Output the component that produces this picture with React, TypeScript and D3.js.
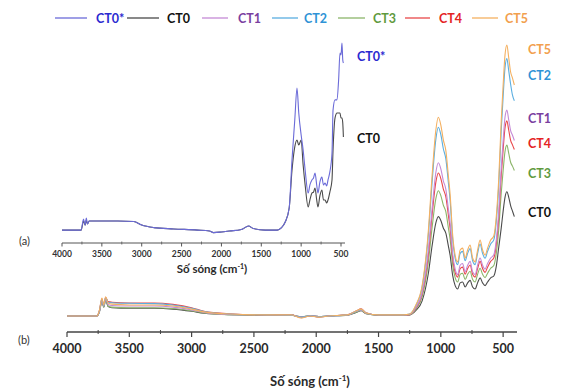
import React from 'react';
import * as d3 from 'd3';

// ---------- Data ----------
const legendNames = ['CT0*', 'CT0', 'CT1', 'CT2', 'CT3', 'CT4', 'CT5'];
const lineColors: Record<string, string> = {
  'CT0*': '#6b6bd8',
  CT0: '#4a4a4a',
  CT1: '#c58ad6',
  CT2: '#5aaee0',
  CT3: '#8cb56a',
  CT4: '#e8474a',
  CT5: '#f4b060',
};
const textColors: Record<string, string> = {
  'CT0*': '#2a2ad0',
  CT0: '#111111',
  CT1: '#7a3fa0',
  CT2: '#2f93d6',
  CT3: '#5f9a3e',
  CT4: '#e42424',
  CT5: '#f2a04e',
};

const mainTicks = [4000, 3500, 3000, 2500, 2000, 1500, 1000, 500];
const mainMinorTicks = [3750, 3250, 2750, 2250, 1750, 1250, 750];
const insetTicks = [4000, 3500, 3000, 2500, 2000, 1500, 1000, 500];
const insetMinorTicks = [3750, 3250, 2750, 2250, 1750, 1250, 750];

// Main panel (b) wavenumbers
const mainWavenumbers = [
  4000, 3760, 3740, 3720, 3705, 3690, 3670, 3640, 3500, 3300, 3150, 3000, 2900, 2700, 2400, 2200, 2120, 2050, 1980, 1900,
  1750, 1680, 1640, 1600, 1500, 1300,
  1250, 1200, 1150, 1100, 1070, 1040, 1020, 1000, 980, 960, 940, 925, 905, 885, 865, 845, 825, 805, 785, 765, 745, 725,
  705, 685, 665, 645, 625, 600, 575, 555, 535, 515, 500, 485, 470, 455, 440, 425, 410,
];

const ct5Main = [
  0, 0, 0.02, 0.065, 0.04, 0.07, 0.047, 0.043, 0.04, 0.04, 0.036, 0.025, 0.015, 0.007, 0.004, 0.004, -0.007, 0, -0.004, 0,
  0.004, 0.018, 0.025, 0.011, 0.004, 0.004,
  0.007, 0.04, 0.11, 0.31, 0.51, 0.674, 0.72, 0.692, 0.638, 0.6, 0.51, 0.438, 0.293, 0.22, 0.196, 0.239, 0.246, 0.21,
  0.239, 0.257, 0.21, 0.196, 0.239, 0.275, 0.239, 0.22, 0.246, 0.275, 0.29, 0.36, 0.5, 0.71, 0.837, 0.946, 0.982,
  0.935, 0.884, 0.862, 0.837,
];
const ct2Main = [
  0, 0, 0.018, 0.06, 0.038, 0.066, 0.05, 0.048, 0.046, 0.045, 0.04, 0.028, 0.016, 0.007, 0.004, 0.003, -0.005, 0.001,
  -0.003, 0, 0.004, 0.017, 0.024, 0.011, 0.004, 0.004,
  0.007, 0.038, 0.105, 0.295, 0.485, 0.64, 0.684, 0.657, 0.606, 0.57, 0.485, 0.416, 0.278, 0.209, 0.186, 0.227, 0.234,
  0.2, 0.227, 0.244, 0.2, 0.186, 0.227, 0.261, 0.227, 0.209, 0.234, 0.261, 0.276, 0.343, 0.475, 0.675, 0.795, 0.899,
  0.933, 0.888, 0.84, 0.8, 0.78,
];
const ct1Main = [
  0, 0, 0.016, 0.058, 0.036, 0.062, 0.042, 0.038, 0.036, 0.036, 0.032, 0.022, 0.013, 0.006, 0.004, 0.003, -0.004, 0.001,
  -0.002, 0, 0.004, 0.016, 0.022, 0.01, 0.004, 0.004,
  0.006, 0.031, 0.085, 0.24, 0.39, 0.52, 0.555, 0.533, 0.49, 0.46, 0.39, 0.337, 0.225, 0.17, 0.15, 0.184, 0.19, 0.16,
  0.184, 0.198, 0.16, 0.15, 0.184, 0.21, 0.184, 0.17, 0.19, 0.21, 0.222, 0.275, 0.38, 0.54, 0.636, 0.72, 0.746, 0.71,
  0.672, 0.655, 0.636,
];
const ct4Main = [
  0, 0, 0.02, 0.062, 0.04, 0.068, 0.052, 0.05, 0.047, 0.047, 0.042, 0.03, 0.017, 0.008, 0.004, 0.004, -0.006, 0, -0.004,
  0, 0.004, 0.018, 0.026, 0.012, 0.004, 0.004,
  0.005, 0.029, 0.08, 0.223, 0.367, 0.485, 0.518, 0.498, 0.46, 0.432, 0.367, 0.315, 0.211, 0.158, 0.141, 0.172, 0.177,
  0.151, 0.172, 0.185, 0.151, 0.141, 0.172, 0.198, 0.172, 0.158, 0.177, 0.198, 0.21, 0.26, 0.36, 0.511, 0.603, 0.681,
  0.707, 0.673, 0.636, 0.62, 0.603,
];
const ct3Main = [
  0, 0, 0.015, 0.055, 0.033, 0.06, 0.036, 0.032, 0.03, 0.03, 0.027, 0.019, 0.011, 0.005, 0.003, 0.003, -0.003, 0.001,
  -0.002, 0, 0.003, 0.014, 0.02, 0.009, 0.003, 0.003,
  0.004, 0.025, 0.069, 0.195, 0.321, 0.425, 0.454, 0.436, 0.402, 0.378, 0.321, 0.276, 0.185, 0.139, 0.123, 0.151, 0.155,
  0.132, 0.151, 0.162, 0.132, 0.123, 0.151, 0.173, 0.151, 0.139, 0.155, 0.173, 0.183, 0.227, 0.315, 0.447, 0.527, 0.596,
  0.619, 0.589, 0.557, 0.543, 0.527,
];
const ct0Main = [
  0, 0, 0.014, 0.052, 0.032, 0.058, 0.034, 0.03, 0.028, 0.028, 0.025, 0.017, 0.01, 0.005, 0.003, 0.003, -0.003, 0.001,
  -0.002, 0, 0.003, 0.013, 0.019, 0.008, 0.003, 0.003,
  0.004, 0.02, 0.055, 0.155, 0.255, 0.337, 0.36, 0.346, 0.319, 0.3, 0.255, 0.219, 0.147, 0.11, 0.098, 0.12, 0.123, 0.105,
  0.12, 0.129, 0.105, 0.098, 0.12, 0.138, 0.12, 0.11, 0.123, 0.138, 0.145, 0.18, 0.25, 0.32, 0.38, 0.43, 0.45,
  0.43, 0.4, 0.38, 0.36,
];

// Inset panel (a)
const insetWavenumbers = [
  4000, 3760, 3730, 3710, 3695, 3680, 3660, 3500, 3300, 3100, 3000, 2850, 2600, 2300, 2150, 2100, 2000, 1900, 1750, 1660,
  1600, 1450, 1300, 1250, 1200, 1150, 1115, 1080, 1052, 1030, 1000, 975, 950, 912, 890, 865, 845, 826, 805, 789, 765,
  740, 720, 700, 680, 663, 640, 613, 600, 575, 550, 530, 513, 500, 488, 478, 470,
];
const ct0StarInset = [
  0.01, 0.01, 0.068, 0.036, 0.073, 0.042, 0.057, 0.057, 0.057, 0.055, 0.036, 0.023, 0.016, 0.01, 0.005, -0.003, 0, 0.005,
  0.013, 0.031, 0.018, 0.01, 0.01, 0.021, 0.052, 0.125, 0.375, 0.583, 0.75, 0.62, 0.505, 0.427, 0.323, 0.203, 0.245,
  0.271, 0.281, 0.307, 0.245, 0.203, 0.26, 0.286, 0.245, 0.255, 0.24, 0.271, 0.313, 0.411, 0.635, 0.688, 0.688, 0.792,
  0.932, 0.922, 0.984, 0.896, 0.88,
];
const ct0Inset = [
  0.01, 0.01, 0.057, 0.036, 0.062, 0.042, 0.057, 0.057, 0.057, 0.055, 0.036, 0.023, 0.016, 0.01, 0.005, -0.003, 0, 0.005,
  0.013, 0.031, 0.018, 0.01, 0.01, 0.021, 0.052, 0.125, 0.32, 0.443, 0.479, 0.453, 0.479, 0.349, 0.245, 0.13, 0.167,
  0.203, 0.208, 0.229, 0.167, 0.13, 0.188, 0.219, 0.167, 0.167, 0.151, 0.167, 0.208, 0.271, 0.427, 0.594, 0.62, 0.62,
  0.62, 0.594, 0.594, 0.568, 0.495,
];

const mainSeries = [
  { name: 'CT0', values: ct0Main },
  { name: 'CT3', values: ct3Main },
  { name: 'CT4', values: ct4Main },
  { name: 'CT1', values: ct1Main },
  { name: 'CT2', values: ct2Main },
  { name: 'CT5', values: ct5Main },
];
const insetSeries = [
  { name: 'CT0', values: ct0Inset },
  { name: 'CT0*', values: ct0StarInset },
];

// right-hand labels for main panel (order top to bottom)
const mainLabels = ['CT5', 'CT2', 'CT1', 'CT4', 'CT3', 'CT0'];
const mainLabelY = [49, 75, 118, 143, 173, 212];
const insetLabels = ['CT0*', 'CT0'];
const insetLabelY = [56, 138];

const FONT = 'Lato, "Open Sans", "Liberation Sans", sans-serif';

export default function App() {
  const W = 563;
  const H = 392;

  const xMain = d3.scaleLinear().domain([4000, 400]).range([67, 515.6]);
  const yMain = d3.scaleLinear().domain([0, 1]).range([316, 40]);
  const xIn = d3.scaleLinear().domain([4000, 465]).range([62, 343.8]);
  const yIn = d3.scaleLinear().domain([0, 1]).range([232, 40]);

  const lineMain = (vals: number[]) =>
    d3
      .line<number>()
      .x((_, i) => xMain(mainWavenumbers[i]))
      .y((d) => yMain(d))
      .curve(d3.curveMonotoneX)(vals) || '';
  const lineIn = (vals: number[]) =>
    d3
      .line<number>()
      .x((_, i) => xIn(insetWavenumbers[i]))
      .y((d) => yIn(d))
      .curve(d3.curveMonotoneX)(vals) || '';

  const axisMainY = 332;
  const axisInY = 243;

  // legend layout
  const legendLineX = [55, 127, 202, 272, 338, 405, 472];
  const legendLineW = [32, 32, 26, 26, 27, 25, 26];
  const legendTextX = [96, 167, 238, 304, 373, 439, 505];

  return (
    <svg
      width={W}
      height={H}
      style={{ position: 'absolute', left: 0, top: 0, background: '#fff' }}
      fontFamily={FONT}
    >
      <rect x={0} y={0} width={W} height={H} fill="#fff" />

      {/* Legend */}
      {legendNames.map((n, i) => (
        <g key={n}>
          <line
            x1={legendLineX[i]}
            x2={legendLineX[i] + legendLineW[i]}
            y1={18}
            y2={18}
            stroke={lineColors[n]}
            strokeWidth={1.3}
          />
          <text
            x={legendTextX[i]}
            y={23}
            fontSize={12.5}
            fontWeight="bold"
            fill={textColors[n]}
          >
            {n}
          </text>
        </g>
      ))}

      {/* Main panel (b) curves */}
      {mainSeries.map((s) => (
        <path
          key={s.name}
          d={lineMain(s.values)}
          fill="none"
          stroke={lineColors[s.name]}
          strokeWidth={1.1}
          strokeLinejoin="round"
        />
      ))}

      {/* Main axis */}
      <line x1={xMain(4000)} x2={517} y1={axisMainY} y2={axisMainY} stroke="#444" strokeWidth={1.3} />
      {mainTicks.map((t) => (
        <g key={t}>
          <line x1={xMain(t)} x2={xMain(t)} y1={axisMainY} y2={axisMainY + 5} stroke="#444" strokeWidth={1.2} />
          <text
            x={xMain(t)}
            y={axisMainY + 21}
            textAnchor="middle"
            fontSize={12.5}
            fontWeight="bold"
            fill="#2a2a2a"
          >
            {t}
          </text>
        </g>
      ))}
      {mainMinorTicks.map((t) => (
        <line key={t} x1={xMain(t)} x2={xMain(t)} y1={axisMainY - 2} y2={axisMainY + 2} stroke="#444" strokeWidth={1} />
      ))}
      <text x={310} y={386} textAnchor="middle" fontSize={13} fontWeight="bold" fill="#2a2a2a">
        Số sóng (cm<tspan fontSize={8} dy={-5}>-1</tspan>
        <tspan dy={5}>)</tspan>
      </text>
      <text x={18} y={344} fontSize={11} fill="#333">
        (b)
      </text>

      {/* Main right labels */}
      {mainLabels.map((n, i) => (
        <text key={n} x={528} y={mainLabelY[i] + 4.5} fontSize={12.5} fontWeight="bold" fill={textColors[n]}>
          {n}
        </text>
      ))}

      {/* Inset panel (a) */}
      {insetSeries.map((s) => (
        <path
          key={s.name}
          d={lineIn(s.values)}
          fill="none"
          stroke={lineColors[s.name]}
          strokeWidth={1.1}
          strokeLinejoin="round"
        />
      ))}
      <line x1={xIn(4000)} x2={345} y1={axisInY} y2={axisInY} stroke="#555" strokeWidth={1} />
      {insetTicks.map((t) => (
        <g key={t}>
          <line x1={xIn(t)} x2={xIn(t)} y1={axisInY} y2={axisInY + 3.5} stroke="#555" strokeWidth={1} />
          <text x={xIn(t)} y={axisInY + 14} textAnchor="middle" fontSize={8.5} fontWeight="bold" fill="#333">
            {t}
          </text>
        </g>
      ))}
      {insetMinorTicks.map((t) => (
        <line key={t} x1={xIn(t)} x2={xIn(t)} y1={axisInY - 1.5} y2={axisInY + 1.5} stroke="#555" strokeWidth={0.8} />
      ))}
      <text x={212} y={273} textAnchor="middle" fontSize={11.5} fontWeight="bold" fill="#2a2a2a">
        Số sóng (cm<tspan fontSize={7} dy={-4}>-1</tspan>
        <tspan dy={4}>)</tspan>
      </text>
      <text x={19} y={245} fontSize={11} fill="#333">
        (a)
      </text>
      {insetLabels.map((n, i) => (
        <text key={n} x={357} y={insetLabelY[i] + 4.5} fontSize={12.5} fontWeight="bold" fill={textColors[n]}>
          {n}
        </text>
      ))}
    </svg>
  );
}
